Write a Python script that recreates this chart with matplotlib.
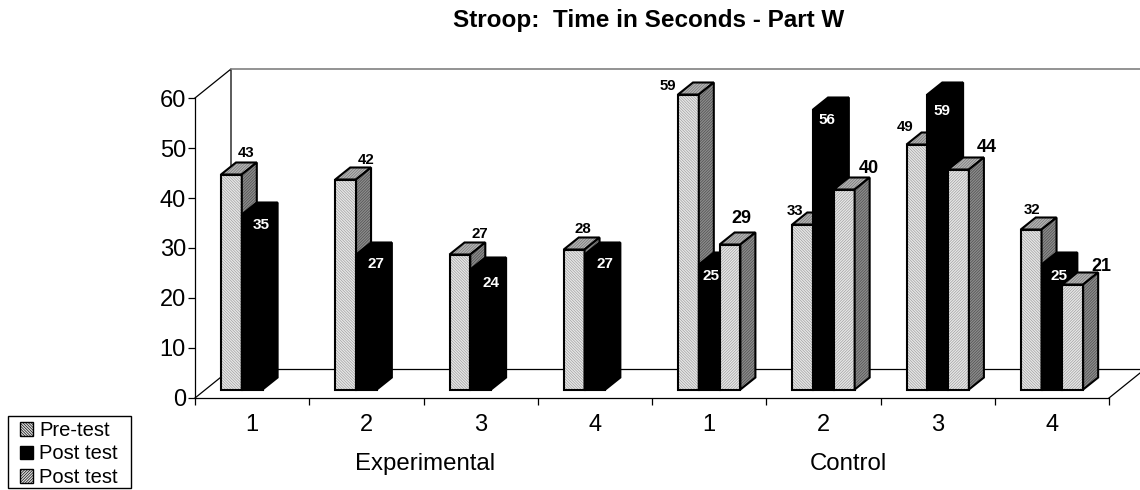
# plot.py - Stroop part W, fake 3D bars drawn on a plain axes
import numpy as np
import matplotlib
matplotlib.use("Agg")
import matplotlib.pyplot as plt
from matplotlib.patches import Patch, Polygon, Rectangle

plt.rcParams['font.family'] = ['Liberation Sans', 'DejaVu Sans']
plt.rcParams['hatch.linewidth'] = 0.45

# Values
title = "Stroop:  Time in Seconds - Part W"
categories = ["1", "2", "3", "4", "1", "2", "3", "4"]
groups = ["Experimental", "Control"]
seriesNames = ["Pre-test", "Post test", "Post test"]
pre = [43, 42, 27, 28, 59, 33, 49, 32]
post = [35, 27, 24, 27, 25, 56, 59, 25]
post2 = [None, None, None, None, 29, 40, 44, 21]

# label offsets from the bar's top left corner, in pixels
preOff = [(25, 22), (31, 20), (30, 21), (19, 21), (-10, 9), (3, 14), (-1, 18), (11, 20)]
postOff = [(19, -10), (20, -10), (21, -13), (20, -10), (12, -12), (14, -10), (15, -16), (17, -12)]
post2Off = [None, None, None, None, (22, 26), (35, 21), (39, 22), (39, 18)]

W, H = 1140, 490
x0, x1, yTop, yBot = 195, 1109, 98, 398
pxX = (x1 - x0) / 8.0   # pixels per category
pxY = (yBot - yTop) / 60.0   # pixels per unit

fig = plt.figure(figsize=(W / 100, H / 100), dpi=100)
ax = fig.add_axes([x0 / W, 1 - yBot / H, (x1 - x0) / W, (yBot - yTop) / H])
ax.set_xlim(0, 8)
ax.set_ylim(0, 60)
ax.patch.set_visible(False)
for s in ["top", "right"]:
    ax.spines[s].set_visible(False)

# back wall and floor
wx, wy = 36 / pxX, 29 / pxY
ax.plot([0, wx, wx], [60, 60 + wy, wy], color="k", lw=0.9, clip_on=False, zorder=1)
ax.plot([0, wx], [0, wy], color="k", lw=0.9, clip_on=False, zorder=1)
ax.plot([wx, 8.3], [60 + wy, 60 + wy], color="#808080", lw=1.2, clip_on=False, zorder=1)
ax.plot([wx, 8.3], [wy, wy], color="k", lw=0.9, clip_on=False, zorder=1)
ax.plot([8, 8 + wx], [0, wy], color="k", lw=0.9, clip_on=False, zorder=1)

barW = 20.8 / pxX
baseX = 26 / pxX
baseY = 8.5 / pxY
dx, dy = 15 / pxX, 12 / pxY


def shape(points, face, hatch=None, hatchCol="#7a7a7a", edge="k", z=3):
    # hatch is painted first since its colour follows the edge colour
    ax.add_patch(Polygon(points, closed=True, facecolor=face, edgecolor=hatchCol,
                         hatch=hatch, lw=0, clip_on=False, zorder=z))
    ax.add_patch(Polygon(points, closed=True, fill=False, edgecolor=edge,
                         lw=1.5, clip_on=False, zorder=z))


def bar3d(left, v, front, z):
    r = left + barW
    top = v + baseY
    if front == "black":
        shape([(left, baseY), (r, baseY), (r, top), (left, top)], "k", z=z)
        shape([(left, top), (r, top), (r + dx, top + dy), (left + dx, top + dy)], "k", z=z)
        shape([(r, baseY), (r + dx, baseY + dy), (r + dx, top + dy), (r, top)], "k", z=z)
    else:
        shape([(left, baseY), (r, baseY), (r, top), (left, top)], "#e8e8e8", front, "#9a9a9a", z=z)
        shape([(left, top), (r, top), (r + dx, top + dy), (left + dx, top + dy)],
              "#b4b4b4", "/" * 12, "#707070", z=z)
        shape([(r, baseY), (r + dx, baseY + dy), (r + dx, top + dy), (r, top)],
              "#8c8c8c", "/" * 12, "#4a4a4a", z=z)


for i in range(8):
    left = i + baseX
    z = 3 + i * 3
    bar3d(left, pre[i], "\\" * 12, z)
    bar3d(left + barW, post[i], "black", z + 1)
    if post2[i] is not None:
        bar3d(left + 2 * barW, post2[i], "/" * 12, z + 2)

# data labels sit on top of all bars
for i in range(8):
    left = i + baseX
    ax.text(left + preOff[i][0] / pxX, pre[i] + baseY + preOff[i][1] / pxY, str(pre[i]),
            fontsize=10.8, fontweight="bold", ha="center", va="center", zorder=50)
    ax.text(left + barW + postOff[i][0] / pxX, post[i] + baseY + postOff[i][1] / pxY, str(post[i]),
            fontsize=11, fontweight="bold", color="w", ha="center", va="center", zorder=50)
    if post2[i] is not None:
        ax.text(left + 2 * barW + post2Off[i][0] / pxX, post2[i] + baseY + post2Off[i][1] / pxY,
                str(post2[i]), fontsize=13, fontweight="bold", ha="center", va="center", zorder=50)

# axes
ax.set_yticks(np.arange(0, 61, 10))
ax.set_xticks(np.arange(0, 9))
ax.set_xticklabels([])
ax.set_xticks(np.arange(0.5, 8), labels=categories, minor=True)
ax.tick_params(axis="x", which="major", length=5, width=0.9)
ax.tick_params(axis="x", which="minor", length=0, pad=11.5, labelsize=17)
ax.tick_params(axis="y", length=5, width=0.9, labelsize=17, pad=1.5)
ax.spines["left"].set_linewidth(0.9)
ax.spines["bottom"].set_linewidth(0.9)

ax.text((425 - x0) / pxX, -(464 - yBot) / pxY, groups[0], fontsize=17.3, ha="center", va="center")
ax.text((848 - x0) / pxX, -(464 - yBot) / pxY, groups[1], fontsize=17.3, ha="center", va="center")
fig.text(649 / W, 1 - 21 / H, title, fontsize=17.5, fontweight="bold", ha="center", va="center")

# legend box is drawn by hand so its padding can differ per side
fig.add_artist(Rectangle((8 / W, 1 - 488 / H), 123 / W, 72 / H, transform=fig.transFigure,
                         facecolor="w", edgecolor="k", lw=1))
handles = [Patch(facecolor="#dcdcdc", edgecolor="k", hatch="\\" * 12, lw=1),
           Patch(facecolor="k", edgecolor="k", lw=1),
           Patch(facecolor="#dcdcdc", edgecolor="k", hatch="/" * 12, lw=1)]
leg = fig.legend(handles, seriesNames, loc="upper left", bbox_to_anchor=(20 / W, 1 - 421 / H),
                 borderaxespad=0, borderpad=0, fontsize=14.5, frameon=False,
                 handlelength=0.65, handleheight=0.65, handletextpad=0.3, labelspacing=0.22)

fig.savefig("out.png", dpi=100)
